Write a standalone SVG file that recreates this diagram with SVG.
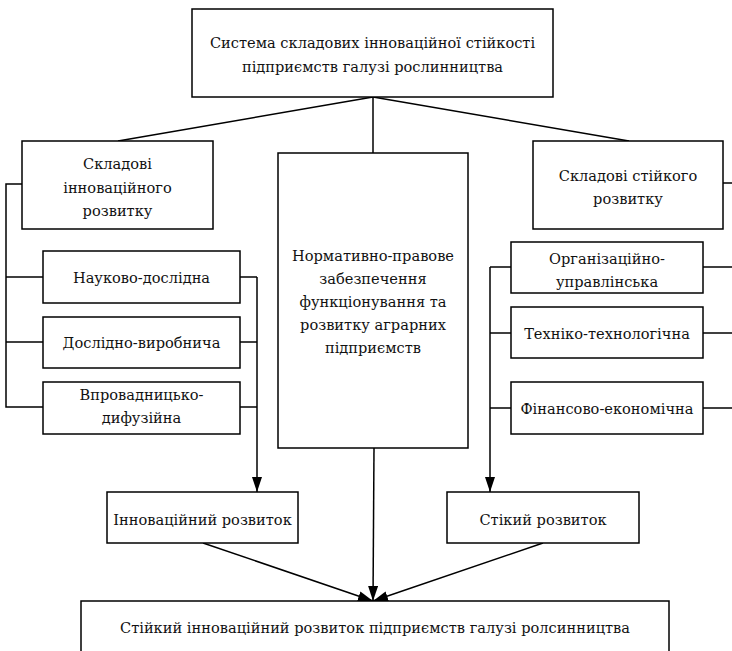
<svg xmlns="http://www.w3.org/2000/svg" width="732" height="651" viewBox="0 0 732 651">
<style>
rect{fill:#fff;stroke:#000;stroke-width:1.5}
text{font-family:'DejaVu Serif',serif;font-size:14.6px;fill:#111;text-anchor:middle}
#connectors line,#connectors polyline{stroke:#000;stroke-width:1.5;fill:none}
</style>
<defs>
<marker id="arr" markerUnits="userSpaceOnUse" markerWidth="16" markerHeight="11" refX="15" refY="5" orient="auto">
<path d="M0,0 L15,5 L0,10 z" fill="#000"/>
</marker>
</defs>
<rect x="0" y="0" width="732" height="651" style="fill:#fff;stroke:none"/>
<g id="connectors">
<line x1="373" y1="97" x2="118" y2="141"/>
<line x1="373" y1="97" x2="629" y2="141"/>
<line x1="373" y1="97" x2="373" y2="153"/>
<polyline points="22,184 6,184 6,407 43,407"/>
<line x1="6" y1="277" x2="43" y2="277"/>
<line x1="6" y1="342" x2="43" y2="342"/>
<line x1="240" y1="277" x2="257" y2="277"/>
<line x1="240" y1="342" x2="257" y2="342"/>
<line x1="240" y1="407" x2="257" y2="407"/>
<line x1="257" y1="277" x2="257" y2="492" marker-end="url(#arr)"/>
<line x1="723" y1="183" x2="732" y2="183"/>
<line x1="490" y1="267" x2="511" y2="267"/>
<line x1="490" y1="333" x2="511" y2="333"/>
<line x1="490" y1="408" x2="511" y2="408"/>
<line x1="490" y1="267" x2="490" y2="492" marker-end="url(#arr)"/>
<line x1="703" y1="267" x2="732" y2="267"/>
<line x1="703" y1="333" x2="732" y2="333"/>
<line x1="703" y1="408" x2="732" y2="408"/>
<line x1="374" y1="448" x2="373" y2="601" marker-end="url(#arr)"/>
<line x1="203" y1="543" x2="373" y2="601" marker-end="url(#arr)"/>
<line x1="543" y1="543" x2="373" y2="601" marker-end="url(#arr)"/>
</g>
<g id="top">
<rect x="192" y="9" width="361" height="88"/>
<text x="372.5" y="48">Система складових інноваційної стійкості</text>
<text x="372.5" y="72">підприємств галузі рослинництва</text>
</g>
<g id="innov-components">
<rect x="22" y="141" width="191" height="88"/>
<text x="117.5" y="169">Складові</text>
<text x="117.5" y="193">інноваційного</text>
<text x="117.5" y="216">розвитку</text>
</g>
<g id="legal">
<rect x="278" y="153" width="190" height="295"/>
<text x="373" y="261">Нормативно-правове</text>
<text x="373" y="284">забезпечення</text>
<text x="373" y="307">функціонування та</text>
<text x="373" y="330">розвитку аграрних</text>
<text x="373" y="353">підприємств</text>
</g>
<g id="sustain-components">
<rect x="533" y="141" width="190" height="88"/>
<text x="628" y="181">Складові стійкого</text>
<text x="628" y="204">розвитку</text>
</g>
<g id="research">
<rect x="43" y="251" width="197" height="52"/>
<text x="141.5" y="283">Науково-дослідна</text>
</g>
<g id="production">
<rect x="43" y="317" width="197" height="51"/>
<text x="141.5" y="348">Дослідно-виробнича</text>
</g>
<g id="diffusion">
<rect x="43" y="382" width="197" height="52"/>
<text x="141.5" y="400">Впровадницько-</text>
<text x="141.5" y="423">дифузійна</text>
</g>
<g id="organizational">
<rect x="511" y="242" width="192" height="51"/>
<text x="607" y="264">Організаційно-</text>
<text x="607" y="287">управлінська</text>
</g>
<g id="technical">
<rect x="511" y="307" width="192" height="51"/>
<text x="607" y="339">Техніко-технологічна</text>
</g>
<g id="financial">
<rect x="511" y="382" width="192" height="52"/>
<text x="607" y="414">Фінансово-економічна</text>
</g>
<g id="innov-dev">
<rect x="107" y="492" width="191" height="51"/>
<text x="202.5" y="525">Інноваційний розвиток</text>
</g>
<g id="sustain-dev">
<rect x="447" y="492" width="192" height="51"/>
<text x="543" y="525">Стікий розвиток</text>
</g>
<g id="result">
<rect x="81" y="601" width="588" height="60"/>
<text x="375" y="633">Стійкий інноваційний розвиток підприємств галузі ролсинництва</text>
</g>
</svg>
